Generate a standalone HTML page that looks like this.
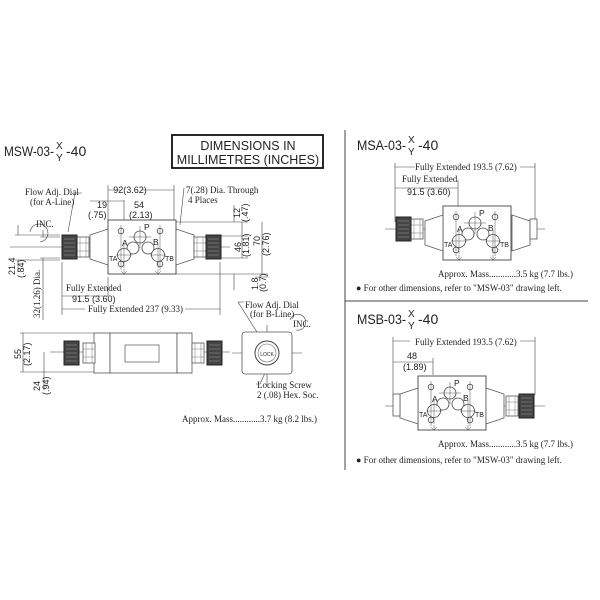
<!DOCTYPE html>
<html><head><meta charset="utf-8"><style>
html,body{margin:0;padding:0;background:#fff}
svg{display:block}
.s{font-family:"Liberation Serif",serif;font-size:9px;fill:#222}
.a{font-family:"Liberation Sans",sans-serif;fill:#222}
</style></head><body>
<svg width="600" height="600" viewBox="0 0 600 600" xmlns="http://www.w3.org/2000/svg">
<defs>
<g id="body">
 <rect x="0" y="0" width="68" height="54" fill="#fff" stroke="#444" stroke-width="0.9"/>
 <g fill="#fff" stroke="#444" stroke-width="0.8">
  <circle cx="32" cy="17" r="6"/><circle cx="25" cy="28" r="6"/><circle cx="40" cy="28" r="6"/>
  <circle cx="16" cy="35" r="6.5"/><circle cx="50" cy="35" r="6.5"/>
  <circle cx="13" cy="11" r="2.8"/><circle cx="52" cy="11" r="2.8"/>
  <circle cx="13" cy="44" r="2.8"/><circle cx="52" cy="44" r="2.8"/>
 </g>
 <g stroke="#555" stroke-width="0.5" fill="none">
  <path d="M32 6V28M21 17H43M16 24V48M8 35H24M50 24V48M42 35H58M13 5V50M52 5V50"/>
  <path d="M16 54l-3 -3M16 54l3 -3M50 54l-3 -3M50 54l3 -3M16 49V54M50 49V54"/>
 </g>
 <text x="36" y="10" class="a" font-size="8.5">P</text>
 <text x="14" y="26" class="a" font-size="8.5">A</text>
 <text x="45" y="25" class="a" font-size="8.5">B</text>
 <text x="1" y="41" class="a" font-size="7">TA</text>
 <text x="57" y="41" class="a" font-size="7">TB</text>
</g>
<g id="taperL"><path d="M0 6 L18 0 V36 L0 30 Z" fill="#fff" stroke="#555" stroke-width="0.8"/></g>
<g id="knob"><rect x="0" y="0" width="15" height="24" fill="#444" stroke="#222"/><path d="M2 4H13M2 8H13M2 12H13M2 16H13M2 20H13" stroke="#999" stroke-width="0.6"/></g>
<g id="conn"><rect x="0" y="0" width="12" height="20" fill="#fff" stroke="#555" stroke-width="0.8"/><path d="M3 0V20M9 0V20M0 6H12M0 14H12" stroke="#777" stroke-width="0.5"/></g>
</defs>

<!-- LEFT: MSW -->
<text x="4" y="156" class="a" font-size="14" textLength="50" lengthAdjust="spacingAndGlyphs">MSW-03-</text>
<text x="56" y="149" class="a" font-size="10">X</text><text x="56" y="161" class="a" font-size="10">Y</text>
<text x="66" y="156" class="a" font-size="14">-40</text>
<rect x="172" y="135" width="151" height="33" fill="#fff" stroke="#111" stroke-width="1.8"/>
<text x="248" y="150" class="a" font-size="12.5" text-anchor="middle">DIMENSIONS IN</text>
<text x="248" y="164" class="a" font-size="12.5" text-anchor="middle">MILLIMETRES (INCHES)</text>

<g stroke="#444" stroke-width="0.6" fill="none">
 <path d="M10 247H230"/>
 <path d="M108 185V220M174 185V220M108 190H120M142 190H174"/>
 <path d="M90 201H124V220M124 200V222"/>
 <path d="M15 235H60M15 260H60M18 225V235M18 260V272"/>
 <path d="M40 237H60M40 258H60M43 230V237M43 258V320"/>
 <path d="M62 262V315M220 262V315M108 277V296M62 296H108M62 309H85M185 309H220"/>
 <path d="M176 222H248M176 274H268M208 236H248M208 258H248M242 222V258M262 222V274M255 277H268"/>
 <path d="M234 205V222M234 274V290"/>
 <path d="M82 193H75L68 232M184 188L180 225M30 232a9 9 0 1 1 10 10"/>
</g>
<use href="#body" x="108" y="220"/>
<use href="#taperL" x="90" y="229"/>
<use href="#taperL" transform="translate(194 229) scale(-1 1)"/>
<use href="#conn" x="77" y="237"/><use href="#knob" x="62" y="235"/>
<use href="#conn" x="194" y="237"/><use href="#knob" x="206" y="235"/>

<text x="25" y="195" class="s">Flow Adj. Dial</text><text x="30" y="205" class="s">(for A-Line)</text>
<text x="130" y="193" class="a" font-size="9" text-anchor="middle">92(3.62)</text>
<text x="97" y="208" class="a" font-size="9">19</text><text x="88" y="218" class="a" font-size="9">(.75)</text>
<text x="134" y="208" class="a" font-size="9">54</text><text x="129" y="218" class="a" font-size="9">(2.13)</text>
<text x="186" y="193" class="s">7(.28) Dia. Through</text><text x="188" y="203" class="s">4 Places</text>
<text x="36" y="227" class="s" font-size="8">INC.</text>
<g class="a" font-size="9">
 <text transform="translate(240 218) rotate(-90)">12</text><text transform="translate(248 222) rotate(-90)">(.47)</text>
 <text transform="translate(241 252) rotate(-90)">46</text><text transform="translate(249 257) rotate(-90)">(1.81)</text>
 <text transform="translate(260 246) rotate(-90)">70</text><text transform="translate(269 256) rotate(-90)">(2.76)</text>
 <text transform="translate(258 290) rotate(-90)">1.8</text><text transform="translate(266 292) rotate(-90)">(0.7)</text>
 <text transform="translate(15 275) rotate(-90)">21.4</text><text transform="translate(24 278) rotate(-90)">(.84)</text>
 <text transform="translate(40 318) rotate(-90)" class="s">32(1.26) Dia.</text>
</g>
<text x="66" y="291" class="s">Fully Extended</text>
<text x="72" y="302" class="a" font-size="9">91.5 (3.60)</text>
<text x="88" y="312" class="s">Fully Extended 237 (9.33)</text>

<!-- bottom view -->
<g stroke="#444" stroke-width="0.6" fill="none">
 <path d="M50 352H230M20 333H95M20 372H95M23 333V372M44 352V390"/>
 <path d="M244 302H238L262 340M270 362L260 384H256M290 320a8 8 0 1 1 6 10"/>
 <path d="M232 353H302M267 325V385"/>
</g>
<rect x="94" y="333" width="16" height="40" fill="#fff" stroke="#555" stroke-width="0.8"/>
<rect x="110" y="333" width="67" height="40" fill="#fff" stroke="#555" stroke-width="0.8"/>
<rect x="177" y="333" width="15" height="40" fill="#fff" stroke="#555" stroke-width="0.8"/>
<rect x="125" y="345" width="34" height="17" fill="#fff" stroke="#555" stroke-width="0.7"/>
<use href="#conn" x="83" y="343"/><use href="#knob" x="64" y="341"/>
<use href="#conn" x="192" y="343"/><use href="#knob" x="207" y="341"/>
<rect x="242" y="332" width="50" height="42" rx="3" fill="#fff" stroke="#555" stroke-width="0.8"/>
<circle cx="267" cy="353" r="12" fill="#fff" stroke="#444"/><circle cx="267" cy="353" r="9" fill="#fff" stroke="#666" stroke-width="0.6"/>
<text x="267" y="356" class="a" font-size="5" text-anchor="middle">LOCK</text>
<text x="245" y="308" class="s">Flow Adj. Dial</text><text x="250" y="317" class="s">(for B-Line)</text>
<text x="293" y="327" class="s" font-size="8">INC.</text>
<text x="257" y="388" class="s">Locking Screw</text><text x="257" y="398" class="s">2 (.08) Hex. Soc.</text>
<g class="a" font-size="9">
 <text transform="translate(21 359) rotate(-90)">55</text><text transform="translate(30 366) rotate(-90)">(2.17)</text>
 <text transform="translate(40 391) rotate(-90)">24</text><text transform="translate(49 395) rotate(-90)">(.94)</text>
</g>
<text x="182" y="422" class="s">Approx. Mass............3.7 kg (8.2 lbs.)</text>

<!-- dividers -->
<path d="M345 130V470M345 301H588" stroke="#444" stroke-width="1"/>

<!-- MSA -->
<text x="357" y="150" class="a" font-size="14" textLength="49" lengthAdjust="spacingAndGlyphs">MSA-03-</text>
<text x="408" y="143" class="a" font-size="10">X</text><text x="408" y="155" class="a" font-size="10">Y</text>
<text x="418" y="150" class="a" font-size="14">-40</text>
<g stroke="#444" stroke-width="0.6" fill="none">
 <path d="M385 229H545M395 163V222M535 163V222M458 180V222M395 167H415M520 167H535M395 188H458"/>
</g>
<use href="#body" x="443" y="206"/>
<use href="#taperL" x="425" y="215"/>
<use href="#taperL" transform="translate(530 215) scale(-1 1)"/>
<rect x="530" y="219" width="7" height="20" fill="#fff" stroke="#555" stroke-width="0.8"/>
<use href="#conn" x="411" y="219"/><use href="#knob" x="396" y="217"/>
<text x="415" y="170" class="s">Fully Extended 193.5 (7.62)</text>
<text x="402" y="182" class="s">Fully Extended</text>
<text x="407" y="195" class="a" font-size="9">91.5 (3.60)</text>
<text x="438" y="277" class="s">Approx. Mass............3.5 kg (7.7 lbs.)</text>
<text x="356" y="291" class="s">● For other dimensions, refer to "MSW-03" drawing left.</text>

<!-- MSB -->
<text x="357" y="324" class="a" font-size="14" textLength="49" lengthAdjust="spacingAndGlyphs">MSB-03-</text>
<text x="408" y="317" class="a" font-size="10">X</text><text x="408" y="329" class="a" font-size="10">Y</text>
<text x="418" y="324" class="a" font-size="14">-40</text>
<g stroke="#444" stroke-width="0.6" fill="none">
 <path d="M385 406H545M393 337V395M535 337V395M433 358V375M393 341H410M520 341H535M393 362H433"/>
</g>
<use href="#body" x="418" y="376"/>
<use href="#taperL" x="400" y="388"/>
<use href="#taperL" transform="translate(504 388) scale(-1 1)"/>
<rect x="393" y="394" width="7" height="22" fill="#fff" stroke="#555" stroke-width="0.8"/>
<use href="#conn" x="506" y="396"/><use href="#knob" x="519" y="394"/>
<text x="415" y="345" class="s">Fully Extended 193.5 (7.62)</text>
<text x="407" y="359" class="a" font-size="9">48</text>
<text x="403" y="370" class="a" font-size="9">(1.89)</text>
<text x="438" y="447" class="s">Approx. Mass............3.5 kg (7.7 lbs.)</text>
<text x="356" y="463" class="s">● For other dimensions, refer to "MSW-03" drawing left.</text>
</svg>
</body></html>
